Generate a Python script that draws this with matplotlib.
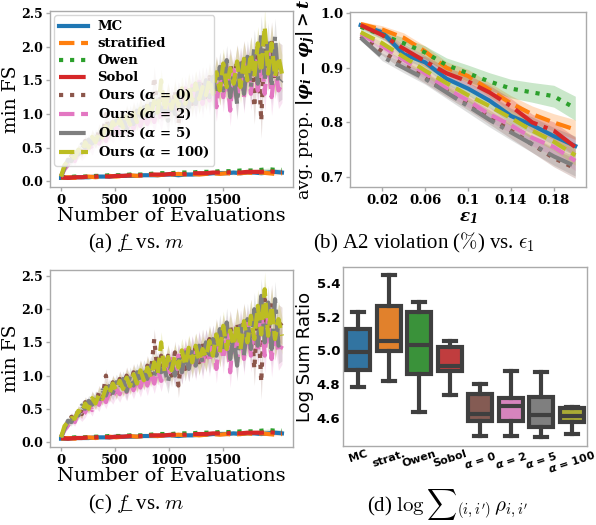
import matplotlib
matplotlib.use("Agg")
import matplotlib.pyplot as plt
import numpy as np

plt.rcParams["mathtext.fontset"] = "custom"
plt.rcParams["mathtext.rm"] = "DejaVu Serif"
plt.rcParams["mathtext.it"] = "DejaVu Serif:italic"
plt.rcParams["mathtext.bf"] = "DejaVu Serif:bold"
plt.rcParams["mathtext.bfit"] = "DejaVu Serif:italic:bold"

labels = ["MC", "stratified", "Owen", "Sobol",
          r"Ours ($\mathbfit{\alpha}$ = 0)", r"Ours ($\mathbfit{\alpha}$ = 2)",
          r"Ours ($\mathbfit{\alpha}$ = 5)", r"Ours ($\mathbfit{\alpha}$ = 100)"]
colors = ["#1f77b4", "#ff7f0e", "#2ca02c", "#d62728",
          "#8c564b", "#e377c2", "#7f7f7f", "#bcbd22"]
styles = ["-", "--", ":", "-.", ":", "--", "-.", "--"]

# ---- (a)/(c): min FS vs number of evaluations
evals = np.arange(0, 2049, 32)
ours_a0 = [0.07, 0.22, 0.26, 0.38, 0.33, 0.48, 0.42, 0.6, 0.52, 0.68,
           0.58, 0.75, 0.66, 1.0, 0.7, 0.9, 0.76, 0.95, 0.82, 1.0,
           0.86, 1.05, 0.9, 1.1, 0.92, 1.15, 1.0, 1.55, 1.02, 1.3,
           1.05, 1.3, 1.0, 1.35, 0.85, 1.3, 1.1, 1.4, 1.15, 1.45,
           1.2, 1.5, 1.25, 1.55, 1.3, 1.65, 1.35, 1.7, 1.4, 1.75,
           1.45, 1.8, 1.5, 1.85, 1.55, 1.9, 1.1, 2.0, 0.9, 2.15,
           1.6, 2.1, 1.5, 1.8, 1.75]
ours_a2 = [0.07, 0.18, 0.25, 0.34, 0.3, 0.44, 0.38, 0.45, 0.55, 0.48,
           0.62, 0.56, 0.7, 0.6, 0.75, 0.68, 0.8, 0.72, 0.85, 0.75,
           0.9, 0.78, 0.95, 0.82, 1.0, 0.85, 1.05, 0.88, 1.1, 0.92,
           1.15, 0.98, 1.25, 1.02, 1.3, 1.05, 1.38, 1.1, 1.42, 1.12,
           1.48, 1.15, 1.5, 1.2, 1.55, 1.1, 1.6, 1.25, 1.7, 1.05,
           1.65, 1.2, 1.75, 1.25, 1.8, 1.3, 1.85, 1.35, 1.95, 1.3,
           1.9, 1.25, 1.7, 1.35, 1.45]
ours_a5 = [0.07, 0.2, 0.32, 0.3, 0.42, 0.4, 0.55, 0.5, 0.62, 0.56,
           0.68, 0.62, 0.78, 0.7, 0.84, 0.74, 0.9, 0.8, 0.95, 0.76,
           1.0, 0.85, 1.05, 0.9, 1.1, 0.95, 1.15, 1.0, 1.2, 1.05,
           1.1, 0.9, 1.2, 1.0, 1.3, 1.05, 1.35, 1.1, 1.4, 1.15,
           1.45, 1.2, 1.5, 1.25, 1.55, 1.3, 1.7, 1.35, 1.8, 1.25,
           1.6, 1.15, 1.75, 1.3, 1.85, 1.4, 2.0, 1.45, 2.2, 1.5,
           2.1, 1.4, 2.15, 1.45, 1.5]
ours_a100 = [0.07, 0.24, 0.3, 0.36, 0.35, 0.47, 0.43, 0.58, 0.5, 0.66,
             0.58, 0.72, 0.65, 0.82, 0.72, 0.88, 0.78, 0.92, 0.8, 0.97,
             0.84, 1.02, 0.88, 1.08, 0.93, 1.12, 0.98, 1.2, 1.02, 1.5,
             1.05, 1.28, 1.08, 1.3, 1.12, 1.38, 1.15, 1.42, 1.2, 1.45,
             1.22, 1.4, 1.28, 1.52, 1.3, 1.62, 1.35, 1.75, 1.4, 1.68,
             1.45, 1.78, 1.4, 1.82, 1.5, 1.9, 1.55, 2.05, 1.62, 2.3,
             1.6, 2.05, 1.55, 1.85, 1.6]
ours_spread = [0.01, 0.04, 0.05, 0.06, 0.06, 0.07, 0.07, 0.08, 0.08, 0.09,
               0.09, 0.1, 0.1, 0.1, 0.11, 0.11, 0.12, 0.12, 0.12, 0.13,
               0.13, 0.13, 0.14, 0.14, 0.14, 0.15, 0.15, 0.15, 0.16, 0.16,
               0.16, 0.17, 0.17, 0.17, 0.18, 0.18, 0.18, 0.19, 0.19, 0.19,
               0.2, 0.2, 0.2, 0.21, 0.21, 0.21, 0.22, 0.22, 0.22, 0.23,
               0.23, 0.23, 0.24, 0.24, 0.24, 0.25, 0.25, 0.25, 0.26, 0.26,
               0.26, 0.27, 0.27, 0.27, 0.28]

base_evals = np.arange(0, 2049, 64)
fs_mc = [0.05, 0.05, 0.06, 0.06, 0.06, 0.07, 0.07, 0.07, 0.08, 0.08,
         0.08, 0.08, 0.09, 0.09, 0.09, 0.1, 0.1, 0.09, 0.1, 0.1,
         0.11, 0.11, 0.12, 0.12, 0.12, 0.13, 0.12, 0.13, 0.13, 0.12,
         0.13, 0.14, 0.13]
fs_strat = [0.05, 0.06, 0.05, 0.06, 0.07, 0.06, 0.07, 0.08, 0.07, 0.08,
            0.09, 0.08, 0.09, 0.1, 0.09, 0.1, 0.1, 0.11, 0.1, 0.11,
            0.1, 0.11, 0.12, 0.11, 0.12, 0.11, 0.12, 0.13, 0.12, 0.13,
            0.12, 0.11, 0.12]
fs_owen = [0.06, 0.06, 0.07, 0.07, 0.07, 0.08, 0.08, 0.09, 0.09, 0.09,
           0.1, 0.1, 0.1, 0.11, 0.12, 0.12, 0.12, 0.13, 0.13, 0.13,
           0.14, 0.14, 0.14, 0.15, 0.15, 0.15, 0.16, 0.16, 0.16, 0.17,
           0.18, 0.17, 0.17]
fs_sobol = [0.06, 0.05, 0.06, 0.06, 0.07, 0.07, 0.08, 0.07, 0.08, 0.08,
            0.09, 0.09, 0.09, 0.1, 0.1, 0.1, 0.11, 0.11, 0.11, 0.12,
            0.12, 0.12, 0.13, 0.13, 0.13, 0.14, 0.13, 0.14, 0.14, 0.14,
            0.15, 0.14, 0.14]
base_spread = 0.015

# ---- (b): A2 violation vs eps1
eps = [0.0, 0.02, 0.04, 0.06, 0.08, 0.1, 0.12, 0.14, 0.16, 0.18, 0.2]
viol_mc = [0.978, 0.965, 0.925, 0.91, 0.88, 0.862, 0.84, 0.812, 0.795, 0.775, 0.757]
viol_strat = [0.98, 0.97, 0.955, 0.93, 0.9, 0.885, 0.86, 0.835, 0.815, 0.8, 0.787]
viol_owen = [0.975, 0.96, 0.945, 0.928, 0.905, 0.89, 0.875, 0.862, 0.855, 0.848, 0.826]
viol_sobol = [0.978, 0.96, 0.935, 0.912, 0.89, 0.875, 0.855, 0.83, 0.8, 0.785, 0.755]
viol_a0 = [0.958, 0.93, 0.905, 0.882, 0.858, 0.835, 0.81, 0.785, 0.76, 0.735, 0.716]
viol_a2 = [0.962, 0.94, 0.915, 0.89, 0.862, 0.84, 0.815, 0.795, 0.772, 0.755, 0.73]
viol_a5 = [0.955, 0.92, 0.9, 0.88, 0.855, 0.83, 0.805, 0.782, 0.76, 0.738, 0.72]
viol_a100 = [0.965, 0.945, 0.92, 0.895, 0.872, 0.85, 0.83, 0.808, 0.785, 0.765, 0.74]
std_owen = [0.005, 0.008, 0.01, 0.012, 0.013, 0.015, 0.016, 0.017, 0.018, 0.02, 0.022]
std_other = [0.005, 0.007, 0.009, 0.01, 0.011, 0.012, 0.013, 0.014, 0.015, 0.016, 0.018]
eps_ticks = [0.02, 0.06, 0.1, 0.14, 0.18]
eps_ticklabels = ["0.02", "0.06", "0.1", "0.14", "0.18"]

# ---- (d): log sum ratio boxplots
box_names = ["MC", "strat.", "Owen", "Sobol",
             r"$\mathbfit{\alpha}$ = 0", r"$\mathbfit{\alpha}$ = 2",
             r"$\mathbfit{\alpha}$ = 5", r"$\mathbfit{\alpha}$ = 100"]
box_med = [4.989, 5.058, 5.035, 4.906, 4.626, 4.673, 4.620, 4.614]
box_q1 = [4.886, 4.999, 4.861, 4.880, 4.584, 4.580, 4.545, 4.574]
box_q3 = [5.127, 5.262, 5.226, 5.021, 4.744, 4.718, 4.724, 4.657]
box_lo = [4.784, 4.821, 4.636, 4.734, 4.491, 4.491, 4.485, 4.507]
box_hi = [5.228, 5.447, 5.285, 5.058, 4.803, 4.880, 4.873, 4.663]
box_colors = ["#3274a1", "#e1812c", "#3a923a", "#c03d3e",
              "#845b53", "#d684bd", "#7f7f7f", "#a9aa35"]

spine_col = "#aaaaaa"
fig = plt.figure(figsize=(5.96, 5.25), dpi=100)


def style_axes(ax, tick_len=3):
    for s in ax.spines.values():
        s.set_color(spine_col)
        s.set_linewidth(1)
    ax.tick_params(length=tick_len, color=spine_col, width=1, pad=2)


def draw_fs(ax, legend):
    base = [fs_mc, fs_strat, fs_owen, fs_sobol]
    ours = [ours_a0, ours_a2, ours_a5, ours_a100]
    for k in range(4):
        y = np.array(base[k])
        ax.fill_between(base_evals, y - base_spread, y + base_spread,
                        color=colors[k], alpha=0.2, lw=0)
        ax.plot(base_evals, y, styles[k], color=colors[k], lw=3, label=labels[k])
    for k in range(4):
        y = np.array(ours[k])
        ax.fill_between(evals, y - ours_spread, y + ours_spread,
                        color=colors[k + 4], alpha=0.2, lw=0)
        ax.plot(evals, y, styles[k + 4], color=colors[k + 4], lw=3, label=labels[k + 4])
    ax.set_xticks([0, 500, 1000, 1500], labels=["0", "500", "1000", "1500"],
                  fontweight="bold", family="DejaVu Serif", fontsize=9.5)
    ax.set_yticks([0.0, 0.5, 1.0, 1.5, 2.0, 2.5],
                  labels=["0.0", "0.5", "1.0", "1.5", "2.0", "2.5"],
                  fontweight="bold", family="DejaVu Serif", fontsize=9)
    ax.set_xlabel("Number of Evaluations", family="DejaVu Serif", fontsize=14, labelpad=0)
    ax.set_ylabel("min FS", family="DejaVu Serif", fontsize=13.5)
    ax.yaxis.set_label_coords(-0.122, 0.5)
    style_axes(ax)
    if legend:
        ax.legend(loc="upper left", prop={"family": "DejaVu Serif", "weight": "bold", "size": 9.5},
                  framealpha=0.8, labelspacing=0.3, handlelength=2.2,
                  handletextpad=0.7, borderaxespad=0.3, borderpad=0.4)


# (a)
ax_a = fig.add_axes([0.0839, 0.6438, 0.4077, 0.3352])
draw_fs(ax_a, True)
ax_a.set_ylim(-0.085, 2.53)

# (b)
ax_b = fig.add_axes([0.5872, 0.6438, 0.396, 0.3333])
viols = [viol_mc, viol_strat, viol_owen, viol_sobol, viol_a0, viol_a2, viol_a5, viol_a100]
for k in range(8):
    m = np.array(viols[k])
    s = np.array(std_owen if k == 2 else std_other)
    ax_b.fill_between(eps, m - s, m + s, color=colors[k], alpha=0.25, lw=0)
for k in range(8):
    ax_b.plot(eps, viols[k], styles[k], color=colors[k], lw=3)
ax_b.set_xticks(eps_ticks, labels=eps_ticklabels, fontweight="bold",
                family="DejaVu Serif", fontsize=9.5)
ax_b.set_yticks([0.7, 0.8, 0.9, 1.0], labels=["0.7", "0.8", "0.9", "1.0"],
                fontweight="bold", family="DejaVu Serif", fontsize=9.5)
ax_b.set_ylim(0.682, 1.002)
ax_b.set_xlabel(r"$\mathbfit{\epsilon_1}$", fontsize=12, labelpad=1)
ax_b.set_ylabel(r"avg. prop. $\mathbfit{|\varphi_i - \varphi_j| > t}$",
                family="DejaVu Serif", fontsize=12.5, labelpad=2)
style_axes(ax_b)

# (c)
ax_c = fig.add_axes([0.0839, 0.1486, 0.4077, 0.3371])
draw_fs(ax_c, False)
ax_c.set_ylim(-0.075, 2.59)

# (d)
ax_d = fig.add_axes([0.5755, 0.1505, 0.4094, 0.341])
stats = [dict(med=box_med[k], q1=box_q1[k], q3=box_q3[k],
              whislo=box_lo[k], whishi=box_hi[k], fliers=[]) for k in range(8)]
line_col = "#3f3f3f"
bp = ax_d.bxp(stats, positions=range(8), widths=0.8, capwidths=0.4,
              patch_artist=True, showfliers=False,
              boxprops=dict(linewidth=3, edgecolor=line_col),
              medianprops=dict(linewidth=3, color=line_col),
              whiskerprops=dict(linewidth=3, color=line_col),
              capprops=dict(linewidth=3, color=line_col))
for patch, c in zip(bp["boxes"], box_colors):
    patch.set_facecolor(c)
ax_d.set_xlim(-0.5, 7.5)
ax_d.set_ylim(4.434, 5.495)
ax_d.set_xticks(range(8), labels=box_names, fontweight="bold", family="DejaVu Sans",
                fontsize=8, rotation=18, math_fontfamily="dejavusans")
ax_d.set_yticks([4.6, 4.8, 5.0, 5.2, 5.4], labels=["4.6", "4.8", "5.0", "5.2", "5.4"],
                fontweight="bold", family="DejaVu Sans", fontsize=9.5)
ax_d.set_ylabel("Log Sum Ratio", family="DejaVu Sans", fontsize=13, labelpad=2)
style_axes(ax_d, tick_len=0)

# captions
cap = dict(family="Liberation Serif", fontsize=15, ha="center", va="center",
           math_fontfamily="cm")
fig.text(0.228, 0.537, "(a) $f$\u0332\u2009 vs. $m$", **cap)
fig.text(0.712, 0.537, r"(b) A2 violation ($\%$) vs. $\epsilon_1$", **cap)
fig.text(0.228, 0.040, "(c) $f$\u0332\u2009 vs. $m$", **cap)
fig.text(0.752, 0.040, r"(d) $\log{\sum}_{(i,i')}\,\rho_{i,i'}$", **cap)

fig.savefig("out.png", dpi=100, facecolor="white")
